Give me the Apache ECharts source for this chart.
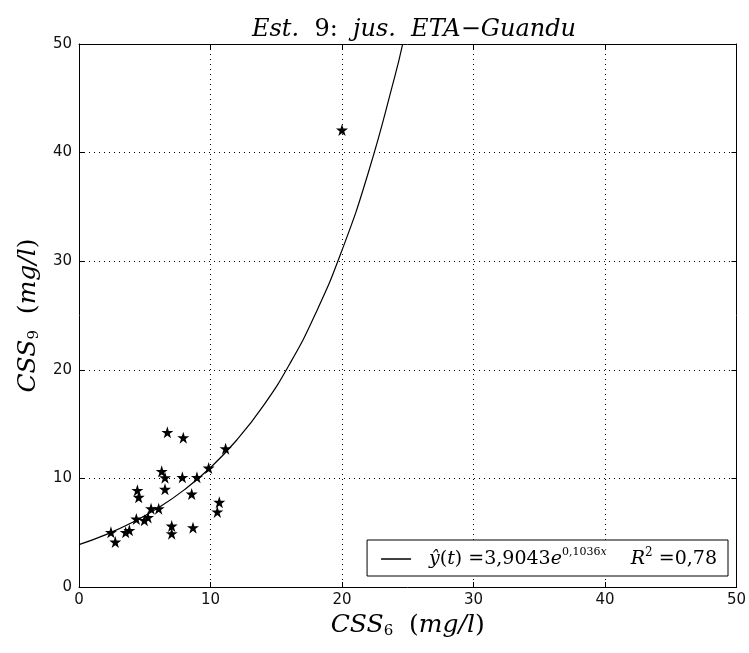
<!DOCTYPE html>
<html>
<head>
<meta charset="utf-8">
<script src="https://cdn.jsdelivr.net/npm/echarts@6/dist/echarts.min.js"></script>
<style>html,body{margin:0;padding:0;background:#fff}#c{width:749px;height:653px}</style>
</head>
<body>
<div id="c"></div>
<script>
// Observed points: CSS6 (x) vs CSS9 (y)
const obsX = [6.72, 7.93, 11.15, 6.29, 6.54, 7.86, 8.97, 9.86, 4.44, 4.54, 6.54, 8.57, 10.67, 10.52, 5.48, 6.06, 4.36, 4.97, 5.25, 7.05, 7.05, 8.67, 2.43, 2.76, 3.55, 3.83, 20.0];
const obsY = [14.24, 13.75, 12.74, 10.65, 10.07, 10.10, 10.10, 10.96, 8.90, 8.26, 9.00, 8.56, 7.80, 6.91, 7.21, 7.21, 6.26, 6.14, 6.41, 5.62, 4.91, 5.46, 5.03, 4.14, 5.03, 5.22, 42.08];
// Fitted curve (y = 3,9043 e^{0,1036x})
const fitX = [0, 2, 4, 6, 8, 10, 12, 14, 16, 18, 20, 22, 24, 24.6];
const fitY = [3.904, 4.803, 5.909, 7.270, 8.943, 11.002, 13.536, 16.651, 20.485, 25.202, 31.003, 38.142, 46.923, 49.93];
const xTicks = [0, 10, 20, 30, 40, 50];
const yTicks = [0, 10, 20, 30, 40, 50];

const scatterData = obsX.map((x, i) => [x, obsY[i]]);
const fitData = fitX.map((x, i) => [x, fitY[i]]);
const STAR = 'path://M50,0 L61.2,34.5 L97.6,34.5 L68.2,55.9 L79.4,90.5 L50,69.1 L20.6,90.5 L31.8,55.9 L2.4,34.5 L38.8,34.5 Z';

const serif = 'DejaVu Serif';
const sans = 'DejaVu Sans';
const tickFont = {fontFamily: sans, fontSize: 15, color: '#111'};
const nameRich = {
  i: {fontFamily: serif, fontStyle: 'italic', fontWeight: 'normal', fontSize: 25, color: '#000'},
  n: {fontFamily: serif, fontWeight: 'normal', fontSize: 25, color: '#000'},
  s: {fontFamily: serif, fontWeight: 'normal', fontSize: 15, color: '#000', verticalAlign: 'bottom', padding: [12, 0, 0, 0]}
};

const chart = echarts.init(document.getElementById('c'), null, {renderer: 'canvas'});
chart.setOption({
  animation: false,
  backgroundColor: '#fff',
  title: {
    text: '{i|Est.}{n|  9:  }{i|jus.  ETA}{n|−}{i|Guandu}',
    left: 409, top: 13, textAlign: 'center',
    textStyle: {
      fontWeight: 'normal',
      rich: {
        i: {fontFamily: serif, fontStyle: 'italic', fontWeight: 'normal', fontSize: 24, color: '#000'},
        n: {fontFamily: serif, fontWeight: 'normal', fontSize: 24, color: '#000'}
      }
    }
  },
  grid: {left: 79, right: 12.5, top: 44, bottom: 66, containLabel: false},
  xAxis: [{
    type: 'value', min: 0, max: 50, interval: 10,
    name: '{i|CSS}{s|6}{n|  (}{i|mg/l}{n|)}', nameLocation: 'middle', nameGap: 23,
    nameTextStyle: {rich: nameRich},
    axisLine: {show: true, onZero: false, lineStyle: {color: '#000', width: 1}},
    axisTick: {show: true, inside: true, length: 5, lineStyle: {color: '#000'}},
    axisLabel: Object.assign({margin: 6, formatter: v => xTicks.includes(v) ? String(v) : ''}, tickFont),
    splitLine: {show: true, lineStyle: {color: '#000', type: [1, 4], width: 1}}
  }, {
    type: 'value', min: 0, max: 50, interval: 10, position: 'top',
    axisLine: {show: true, onZero: false, lineStyle: {color: '#000', width: 1}},
    axisTick: {show: true, inside: true, length: 5, lineStyle: {color: '#000'}},
    axisLabel: {show: false}, splitLine: {show: false}
  }],
  yAxis: [{
    type: 'value', min: 0, max: 50, interval: 10,
    name: '{i|CSS}{s|9}{n|  (}{i|mg/l}{n|)}', nameLocation: 'middle', nameGap: 36, nameRotate: 90,
    nameTextStyle: {rich: nameRich},
    axisLine: {show: true, onZero: false, lineStyle: {color: '#000', width: 1}},
    axisTick: {show: true, inside: true, length: 5, lineStyle: {color: '#000'}},
    axisLabel: Object.assign({margin: 7, formatter: v => yTicks.includes(v) ? String(v) : ''}, tickFont),
    splitLine: {show: true, lineStyle: {color: '#000', type: [1, 4], width: 1}}
  }, {
    type: 'value', min: 0, max: 50, interval: 10, position: 'right',
    axisLine: {show: true, onZero: false, lineStyle: {color: '#000', width: 1}},
    axisTick: {show: true, inside: true, length: 5, lineStyle: {color: '#000'}},
    axisLabel: {show: false}, splitLine: {show: false}
  }],
  legend: {
    data: [{name: 'fit', icon: 'rect'}], right: 21, bottom: 77,
    orient: 'horizontal',
    backgroundColor: '#fff', borderColor: '#000', borderWidth: 1, borderRadius: 0,
    padding: [7, 11, 7, 14], itemWidth: 30, itemHeight: 1.5, itemGap: 10,
    itemStyle: {color: '#000'},
    formatter: () => '{i|ŷ}{n|(}{i|t}{n|) =3,9043}{i|e}{p|0,1036}{pi|x}{n|    }{i|R}{q|2}{n| =0,78}',
    textStyle: {
      padding: [0, 0, 0, 13],
      rich: {
        n: {fontFamily: serif, fontSize: 19, color: '#000', lineHeight: 24},
        i: {fontFamily: serif, fontStyle: 'italic', fontSize: 19, color: '#000', lineHeight: 24},
        p: {fontFamily: serif, fontSize: 11, color: '#000', verticalAlign: 'top', lineHeight: 14, padding: [0, 0, 10, 0]},
        pi: {fontFamily: serif, fontStyle: 'italic', fontSize: 11, color: '#000', verticalAlign: 'top', lineHeight: 14, padding: [0, 0, 10, 0]},
        q: {fontFamily: serif, fontSize: 12, color: '#000', verticalAlign: 'top', lineHeight: 14, padding: [0, 0, 10, 0]}
      }
    }
  },
  series: [{
    name: 'fit', type: 'line', data: fitData, smooth: true, symbol: 'none',
    lineStyle: {color: '#000', width: 1.2}, itemStyle: {color: '#000'}, z: 2
  }, {
    name: 'obs', type: 'scatter', data: scatterData, symbol: STAR, symbolSize: 12,
    itemStyle: {color: '#000', opacity: 1}, z: 3
  }]
});
</script>
</body>
</html>
